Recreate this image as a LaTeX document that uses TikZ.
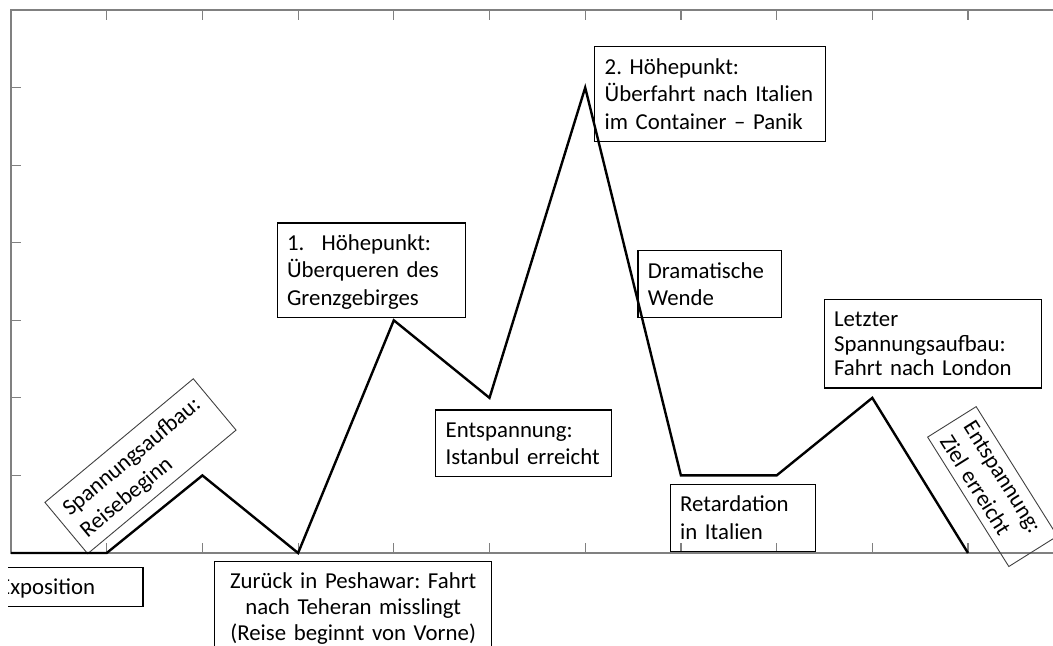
\documentclass[tikz,border=0pt]{standalone}
\usepackage{fontspec}
\setmainfont{Carlito}
\definecolor{axisgray}{RGB}{128,128,128}
\newcommand{\topline}{\rule{0pt}{13.6pt}}
\newcommand{\lastline}{\rule[-6pt]{0pt}{6pt}}
\hyphenpenalty=10000
\frenchspacing

\begin{document}
\begin{tikzpicture}[x=0.5pt, y=0.5pt,
  box/.style={draw, line width=0.6pt, anchor=north west, inner xsep=5pt, inner ysep=0pt,
    align=left, font=\fontsize{11.4}{13.8}\selectfont},
  tiltbox/.style={box, draw=black!75, line width=0.45pt},
  axis/.style={draw=axisgray, line width=0.6pt},
  curve/.style={line width=1.2pt},
  plotarea/.style={shift={(11,-553)}, x=47.85pt, y=38.785pt}]
  \useasboundingbox (0,0) rectangle (1053,-645);
  \clip (0,0) rectangle (1053,-645);

  % frame and ticks
  \begin{scope}[plotarea]
    \draw[axis] (0,0) rectangle (11,7);
    \foreach \i in {1,...,10} {
      \draw[axis] (\i,0) -- ++(0,5pt);
      \draw[axis] (\i,7) -- ++(0,-5pt);
    }
    \foreach \j in {1,...,6} {
      \draw[axis] (0,\j) -- ++(5pt,0);
      \draw[axis] (11,\j) -- ++(-5pt,0);
    }
  \end{scope}

  % text boxes
  \begin{scope}
    \clip (8,0) rectangle (1053,-645);
    \node[box, text width=66.85pt] (expo) at (-11.4,-566.7) {\topline Exposition\lastline};
  \end{scope}
  \node[tiltbox, text width=86.55pt, rotate=39.8] (start) at (44.3,-502.3)
    {\topline Spannungsaufbau:\\ Reisebeginn\lastline};
  \node[box, text width=128.6pt, align=center, font=\fontsize{11.4}{13}\selectfont] (back) at (214,-560.7)
    {\topline Zurück in Peshawar: Fahrt\\ nach Teheran misslingt\\ (Reise beginnt von Vorne)\lastline};
  \node[box, text width=84.15pt] (peak1) at (276.5,-222.4)
    {\topline\makebox[17.25pt][l]{1.}Höhepunkt:\\ Überqueren des\\ Grenzgebirges\lastline};
  \node[box, text width=78pt] (istanbul) at (435.1,-409.4)
    {\topline Entspannung:\\ Istanbul erreicht\lastline};
  \node[box, text width=105.2pt] (peak2) at (594.1,-46.2)
    {\topline 2. Höhepunkt:\\ Überfahrt nach Italien\\ im Container -- Panik\lastline};
  \node[box, text width=61.85pt] (turn) at (637.3,-250.2)
    {\topline Dramatische\\ Wende\lastline};
  \node[box, text width=62.7pt] (retard) at (669.6,-484)
    {\topline Retardation\\ in Italien\lastline};
  \node[box, text width=98.6pt, font=\fontsize{11.4}{12.25}\selectfont] (london) at (823.5,-299.1)
    {\topline Letzter\\ Spannungsaufbau:\\ Fahrt nach London\lastline};
  \node[tiltbox, text width=66.4pt, minimum height=28.65pt, rotate=-57.9] (goal) at (976.3,-406)
    {Entspannung:\\ Ziel erreicht};

  % tension curve
  \begin{scope}[plotarea]
    \draw[curve] (0,0) -- (1,0) -- (2,1) -- (3,0) -- (4,3) -- (5,2) -- (6,6)
      -- (7,1) -- (8,1) -- (9,2) -- (10,0);
  \end{scope}
\end{tikzpicture}
\end{document}
